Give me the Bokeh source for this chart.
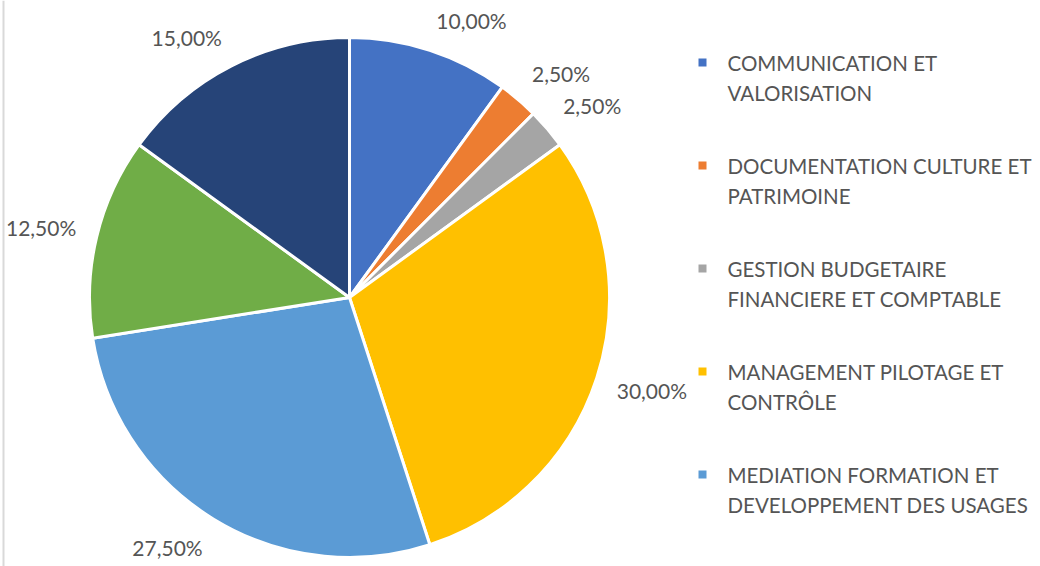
import math
from bokeh.plotting import figure
from bokeh.models import Range1d, ColumnDataSource, Span
from bokeh.core.properties import value
from bokeh.embed import file_html
from bokeh.resources import INLINE

# ---- data ----
values = [10.0, 2.5, 2.5, 30.0, 27.5, 12.5, 15.0]
colors = ["#4472C4", "#ED7D31", "#A5A5A5", "#FFC000", "#5B9BD5", "#70AD47", "#264478"]
legend_labels = [
    "COMMUNICATION ET\nVALORISATION",
    "DOCUMENTATION CULTURE ET\nPATRIMOINE",
    "GESTION BUDGETAIRE\nFINANCIERE ET COMPTABLE",
    "MANAGEMENT PILOTAGE ET\nCONTRÔLE",
    "MEDIATION FORMATION ET\nDEVELOPPEMENT DES USAGES",
]

W, H = 1040, 566
FONT = "Lato"
TXT = "#555555"
FS = "21px"
FS_LEG = "20.5px"

p = figure(width=W, height=H, output_backend="svg", toolbar_location=None,
           x_range=Range1d(0, W), y_range=Range1d(0, H), min_border=0)
p.axis.visible = False
p.grid.visible = False
p.outline_line_color = None
p.background_fill_color = "white"
p.border_fill_color = "white"

# chart area left border
p.add_layout(Span(location=3, dimension="height", line_color="#d9d9d9", line_width=2))

# pie geometry (data units == pixels, y up)
cx, cy, r = 349, H - 297, 260
total = sum(values)
starts, ends, mids = [], [], []
acc = 0.0
for v in values:
    a0 = math.pi / 2 - 2 * math.pi * acc / total
    acc += v
    a1 = math.pi / 2 - 2 * math.pi * acc / total
    starts.append(a1)
    ends.append(a0)
    mids.append((a0 + a1) / 2)

src = ColumnDataSource(dict(start=starts, end=ends, color=colors))
p.wedge(x=cx, y=cy, radius=r, start_angle="start", end_angle="end",
        fill_color="color", line_color="white", line_width=3, source=src)

# data labels (outside end, box edge anchored just outside the rim)
gap = 21
half_h = 10
for v, m in zip(values, mids):
    dx, dy = math.cos(m), math.sin(m)
    ax = cx + (r + gap) * dx
    ay = cy + (r + gap) * dy + half_h * max(-1.0, min(1.0, 2 * dy))
    txt = ("%.2f" % v).replace(".", ",") + "%"
    p.text(x=[ax], y=[ay], text=[txt],
           text_align="left" if dx >= 0 else "right", text_baseline="middle",
           text_font=value(FONT), text_font_size=FS, text_color=TXT)

# legend (manual, two lines per entry)
leg_x, leg_top, leg_step, line_gap = 702, H - 62, 103, 30
for i, lab in enumerate(legend_labels):
    y0 = leg_top - i * leg_step
    p.rect(x=leg_x, y=y0, width=8, height=8, fill_color=colors[i], line_color=None)
    for j, line in enumerate(lab.split("\n")):
        p.text(x=[leg_x + 25], y=[y0 - j * line_gap], text=[line],
               text_align="left", text_baseline="middle",
               text_font=value(FONT), text_font_size=FS_LEG, text_color=TXT)

open("out.html", "w").write(file_html(p, INLINE))
